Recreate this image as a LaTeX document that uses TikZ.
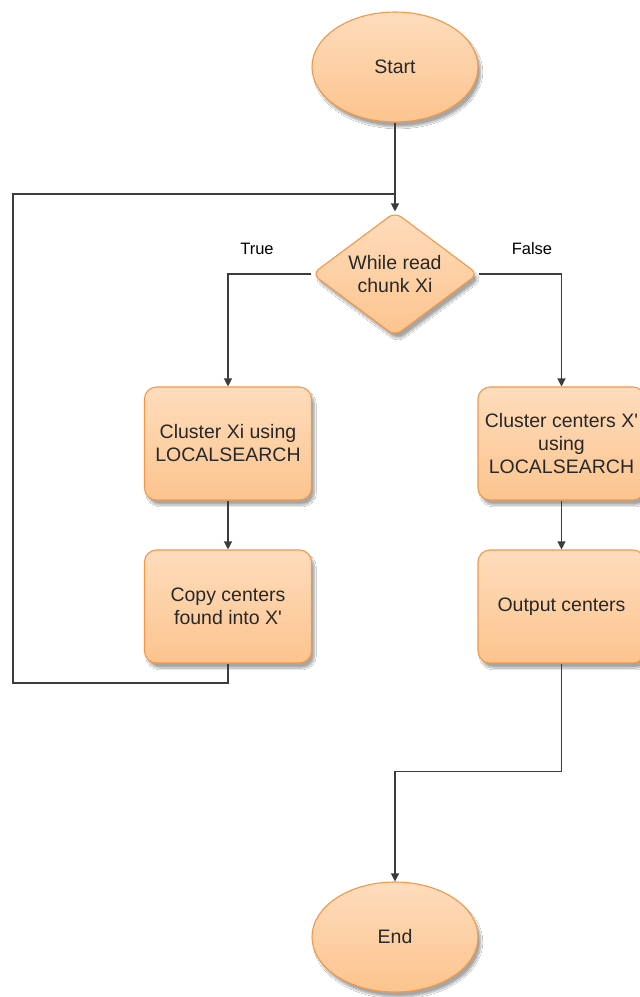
\documentclass[tikz,border=0pt]{standalone}
\usepackage{fontspec}
% a family without TeX ligature mapping, so ' stays a straight apostrophe
\newfontfamily\plainsans{Liberation Sans}
\usetikzlibrary{shapes.geometric,arrows.meta,shadows.blur}
\definecolor{peachtop}{RGB}{254,220,188}
\definecolor{peachbot}{RGB}{252,196,142}
\definecolor{peachline}{RGB}{242,152,72}
\definecolor{inkgray}{RGB}{40,40,40}
\definecolor{wire}{RGB}{60,60,60}
\tikzset{
  shapebase/.style={draw=peachline, line width=1.1pt, top color=peachtop,
    bottom color=peachbot, text=inkgray, align=center,
    font=\plainsans\fontsize{19.5}{23}\selectfont,
    blur shadow={shadow xshift=3pt, shadow yshift=-5pt,
      shadow blur steps=10, shadow opacity=35}},
  terminal/.style={shapebase, ellipse, minimum width=166pt,
    minimum height=110pt, inner sep=0pt},
  decision/.style={shapebase, diamond, aspect=1.34, minimum width=166pt,
    minimum height=124pt, inner sep=0pt, rounded corners=8pt},
  process/.style={shapebase, rectangle, rounded corners=12pt,
    minimum width=167pt, minimum height=113pt, inner sep=2pt},
  link/.style={draw=wire, line width=1.2pt},
  flow/.style={link, -{Triangle[width=8pt,length=8pt]}},
  branchlabel/.style={font=\plainsans\fontsize{16.5}{19}\selectfont, text=black}
}
\begin{document}
\begin{tikzpicture}[x=1pt, y=-1pt]
  \useasboundingbox[fill=white] (0,0) rectangle (640,997);

  % nodes
  \node[terminal] (start) at (395,67) {Start};
  \node[decision] (cond) at (395,274) {While read\\chunk Xi};
  \node[process] (clusterL) at (228,443.5) {Cluster Xi using\\LOCALSEARCH};
  \node[process] (copyL) at (228,606.5) {Copy centers\\found into X'};
  \node[process] (clusterR) at (561.5,443.5) {Cluster centers X'\\using\\LOCALSEARCH};
  \node[process] (outR) at (561.5,606.5) {Output centers};
  \node[terminal] (stop) at (395,937) {End};

  \coordinate (join) at (395,194);

  % branch labels
  \node[branchlabel] (lblTrue) at (257,249) {True};
  \node[branchlabel] (lblFalse) at (532,249) {False};

  % connectors
  \draw[flow] (start.south) -- (cond.north);
  \draw[flow] (cond.west) -| (clusterL.north);
  \draw[flow] (cond.east) -| (clusterR.north);
  \draw[flow] (clusterL.south) -- (copyL.north);
  \draw[flow] (clusterR.south) -- (outR.north);
  \draw[link] (copyL.south) -- ++(0,19.5) -| (13,194) -- (join);
  \draw[flow] (outR.south) -- ++(0,108) -| (stop.north);
\end{tikzpicture}
\end{document}
